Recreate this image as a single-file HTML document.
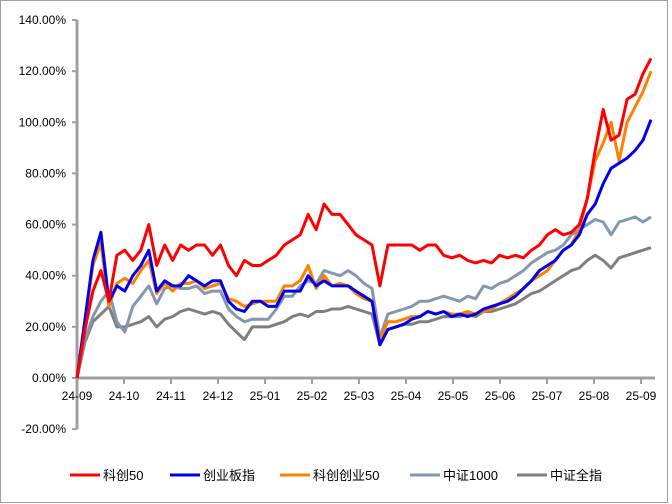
<!DOCTYPE html>
<html><head><meta charset="utf-8"><style>
html,body{margin:0;padding:0;background:#fff}
svg{display:block;font-family:"Liberation Sans","Noto Sans CJK SC",sans-serif}
</style></head><body>
<svg id="c" width="672" height="504" viewBox="0 0 672 504">
<rect x="0.5" y="0.5" width="667" height="502" fill="#fff" stroke="#a0a0a0"/>
</svg>
<script>
const xLabels=["24-09","24-10","24-11","24-12","25-01","25-02","25-03","25-04","25-05","25-06","25-07","25-08","25-09"];
const yTicks=[-20,0,20,40,60,80,100,120,140];
const seriesNames=["科创50","创业板指","科创创业50","中证1000","中证全指"];
const seriesColors=["#ff0000","#0000ee","#ff8000","#8497b0","#7f7f7f"];
const kc50=[0,19,34,42,30,48,50,46,50,60,44,52,46,52,50,52,52,48,52,44,40,46,44,44,46,48,52,54,56,64,58,68,64,64,60,56,54,52,36,52,52,52,52,50,52,52,48,47,48,46,45,46,45,48,47,48,47,50,52,56,58,56,57,60,70,89,105,93,95,109,111,119,125];
const cybz=[0,23,46,57,30,36,34,40,44,50,34,38,36,36,40,38,36,38,38,30,27,26,30,30,28,28,34,34,34,40,36,38,36,36,36,34,32,30,13,19,20,21,23,24,26,25,26,24,25,24,25,27,28,29,30,32,35,38,42,44,46,50,52,56,64,68,76,82,84,86,89,93,101];
const kccy50=[0,22,44,53,28,37,39,37,42,46,33,37,34,37,37,38,35,36,37,31,30,28,29,30,30,30,36,36,38,44,35,40,36,37,36,33,31,30,15,22,22,23,24,24,26,25,26,25,25,26,25,26,27,29,31,33,35,38,40,42,46,50,52,58,70,85,92,100,85,100,106,112,120];
const zz1000=[0,15,24,30,34,22,18,28,32,36,29,35,36,35,35,36,33,34,34,27,24,22,23,23,23,27,32,32,36,38,37,42,41,40,42,40,37,35,16,25,26,27,28,30,30,31,32,31,30,32,31,36,35,37,38,40,42,45,47,49,50,52,56,58,60,62,61,56,61,62,63,61,63];
const zzqz=[0,14,22,25,28,20,20,21,22,24,20,23,24,26,27,26,25,26,25,21,18,15,20,20,20,21,22,24,25,24,26,26,27,27,28,27,26,25,13,19,20,21,21,22,22,23,24,24,24,25,24,26,26,27,28,29,31,33,34,36,38,40,42,43,46,48,46,43,47,48,49,50,51];
const allSeries=[kc50,cybz,kccy50,zz1000,zzqz];

const NS="http://www.w3.org/2000/svg";
const svg=document.getElementById('c');
const X0=77,X1=651,XL0=77,XL1=641;
const yS=v=>378-v*2.557;
const xS=i=>X0+i*(X1-X0)/(kc50.length-1);
function mk(t,a){const e=document.createElementNS(NS,t);for(const k in a)e.setAttribute(k,a[k]);svg.appendChild(e);return e;}

yTicks.forEach(v=>{
  const t=mk('text',{x:66,y:yS(v)+4,'text-anchor':'end','font-size':'12',fill:'#000'});
  t.textContent=v.toFixed(2)+'%';
  
  
  const tk=mk('line',{x1:72,x2:77,y1:yS(v),y2:yS(v),stroke:'#a0a0a0','stroke-width':2});
  
  
});
const ya=mk('line',{x1:77,x2:77,y1:yS(140),y2:yS(-20),stroke:'#a0a0a0','stroke-width':3});


const xa=mk('line',{x1:77,x2:655,y1:378,y2:378,stroke:'#a0a0a0','stroke-width':3});


xLabels.forEach((l,i)=>{
  const x=XL0+i*(XL1-XL0)/(xLabels.length-1);
  const tk=mk('line',{x1:x,x2:x,y1:378,y2:384,stroke:'#a0a0a0','stroke-width':2});
  
  
  const t=mk('text',{x:x,y:400,'text-anchor':'middle','font-size':'12',fill:'#000'});
  t.textContent=l;
  
  
});
[4,3,2,1,0].forEach(s=>{
  const d=allSeries[s].map((v,i)=>(i?'L':'M')+xS(i).toFixed(1)+','+yS(v).toFixed(1)).join('');
  const p=mk('path',{d:d,fill:'none',stroke:seriesColors[s],'stroke-width':3,'stroke-linejoin':'round'});
  
  
});
const legX=[70,170,280,410,517];
seriesNames.forEach((n,s)=>{
  const l=mk('line',{x1:legX[s],x2:legX[s]+30,y1:475,y2:475,stroke:seriesColors[s],'stroke-width':3});
  
  
  const t=mk('text',{x:legX[s]+33,y:480,'font-size':'13',fill:'#000'});
  t.textContent=n;
  
  
});
</script>
</body></html>
